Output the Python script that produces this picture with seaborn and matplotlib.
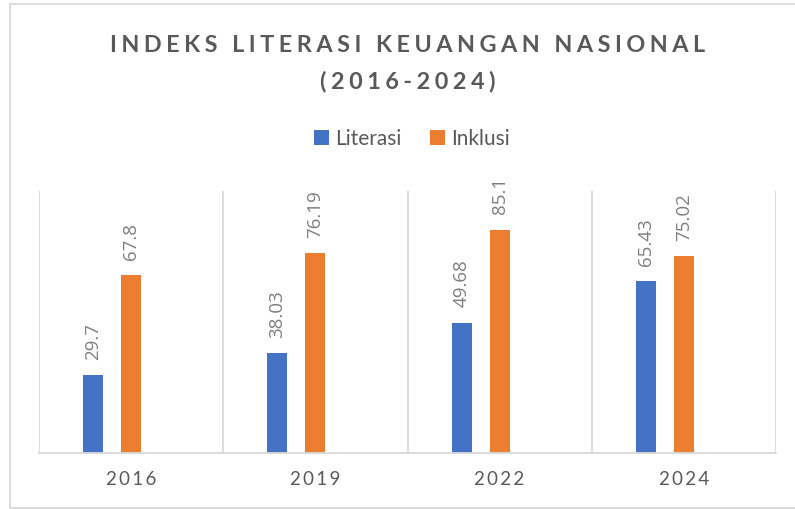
import numpy as np
import pandas as pd
import matplotlib
matplotlib.use("Agg")
import matplotlib.pyplot as plt
import seaborn as sns
from matplotlib.patches import Rectangle, Patch

years = ["2016", "2019", "2022", "2024"]
literasi = [29.7, 38.03, 49.68, 65.43]
inklusi = [67.8, 76.19, 85.1, 75.02]
literasi_labels = ["29.7", "38.03", "49.68", "65.43"]
inklusi_labels = ["67.8", "76.19", "85.1", "75.02"]
series_names = ["Literasi", "Inklusi"]
title_lines = ["INDEKS LITERASI KEUANGAN NASIONAL", "(2016-2024)"]

BLUE = "#4472C4"
ORANGE = "#ED7D31"
TEXT = "#595959"
GRID = "#D9D9D9"

df = pd.DataFrame({
    "Tahun": years * 2,
    "Seri": [series_names[0]] * 4 + [series_names[1]] * 4,
    "Nilai": literasi + inklusi,
})

sns.set_theme(style="white")
plt.rcParams["font.family"] = ["Lato", "DejaVu Sans"]

HS = "\u200a"


def spaced(s, n=1):
    return (HS * n).join(list(s))


fig = plt.figure(figsize=(7.95, 5.09), dpi=100)
ax = fig.add_axes([39 / 795, 56.3 / 509, (776 - 39) / 795, 262 / 509])

sns.barplot(
    data=df, x="Tahun", y="Nilai", hue="Seri",
    hue_order=["Literasi", "Inklusi", "_kosong"],
    order=years,
    palette={"Literasi": BLUE, "Inklusi": ORANGE, "_kosong": "white"},
    width=0.619, gap=0.473, legend=False, ax=ax, saturation=1,
    edgecolor="none", linewidth=0,
)

ax.set_ylim(0, 100)
ax.set_xlim(-0.5, 3.5)
ax.set_yticks([])
ax.set_xlabel("")
ax.set_ylabel("")
for s in ["top", "right", "left"]:
    ax.spines[s].set_visible(False)
ax.spines["bottom"].set_color(GRID)
ax.spines["bottom"].set_linewidth(1.3)

ax.set_xticks(np.arange(-0.5, 4, 1), minor=True)
ax.grid(axis="x", which="minor", color=GRID, linewidth=1.3)
ax.grid(axis="x", which="major", visible=False)
ax.tick_params(axis="x", which="both", length=0, pad=13)
ax.set_xticks(range(len(years)))
ax.set_xticklabels([spaced(y, 2) for y in years], fontsize=13.5, color=TEXT)

labels_all = [literasi_labels, inklusi_labels]
for cont, labs in zip(ax.containers[:2], labels_all):
    ax.bar_label(cont, labels=labs, padding=11, rotation=90,
                 fontsize=13.5, color="#7F7F7F",
                 family=["Open Sans", "DejaVu Sans"])

cx = 407.5 / 795
fig.text(cx, 1 - 45 / 509, spaced(title_lines[0], 3), ha="center", va="center",
         fontsize=16.8, fontweight="bold", color=TEXT)
fig.text(cx, 1 - 81 / 509, spaced(title_lines[1], 3), ha="center", va="center",
         fontsize=16.8, fontweight="bold", color=TEXT)

handles = [Patch(facecolor=BLUE, edgecolor="none"), Patch(facecolor=ORANGE, edgecolor="none")]
fig.legend(handles, series_names, loc="center", bbox_to_anchor=(412 / 795, 1 - 139 / 509),
           ncol=2, frameon=False, fontsize=15, labelcolor=TEXT,
           handlelength=0.7, handleheight=0.7, handletextpad=0.3, columnspacing=1.4)

fig.add_artist(Rectangle((9.5 / 795, 1 - 507.5 / 509), 2, (507.5 - 4) / 509,
                         transform=fig.transFigure, fill=False,
                         edgecolor=GRID, linewidth=1.3))

fig.savefig("out.png", dpi=100, facecolor="white")
